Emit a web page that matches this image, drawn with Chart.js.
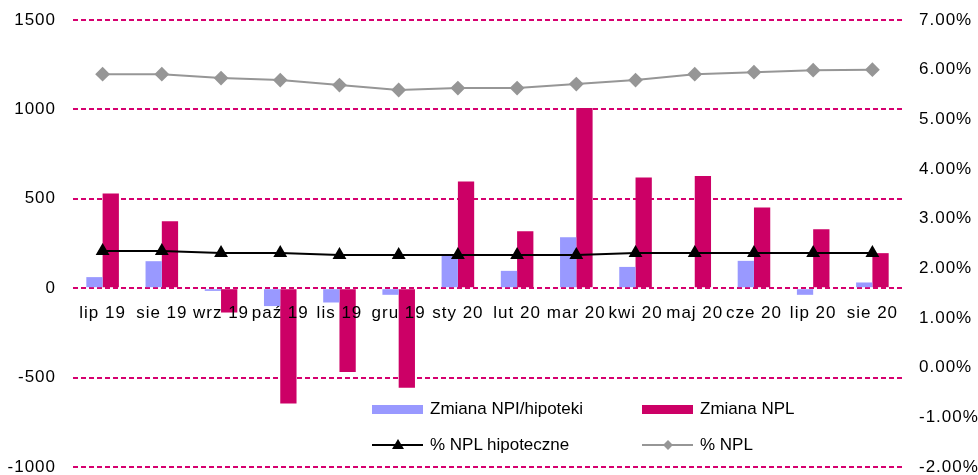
<!DOCTYPE html>
<html lang="pl">
<head>
  <meta charset="UTF-8">
  <title>NPL hipoteczne</title>
  <script src="https://cdn.jsdelivr.net/npm/chart.js"></script>
  <style>
    body {
      margin: 0;
      background: #fff;
      font-family: 'Liberation Sans', Arial, sans-serif;
    }
    .wrap {
      position: relative;
      width: 978px;
      height: 475px;
    }
    .legend {
      position: absolute;
      left: 372px;
      top: 391px;
      display: grid;
      grid-template-columns: 270px 200px;
      grid-auto-rows: 36px;
      font-size: 17px;
      color: #000;
    }
    .item {
      display: flex;
      align-items: center;
    }
    .swatch {
      position: relative;
      width: 51px;
      height: 9px;
      margin-right: 7px;
    }
    .swatch.line {
      height: 2px;
    }
    .marker {
      position: absolute;
      left: 50%;
      top: 50%;
    }
    .marker.triangle {
      width: 0;
      height: 0;
      border-left: 6px solid transparent;
      border-right: 6px solid transparent;
      border-bottom: 10px solid #000;
      transform: translate(-50%, -60%);
    }
    .marker.diamond {
      width: 7px;
      height: 7px;
      background: #969696;
      transform: translate(-50%, -50%) rotate(45deg);
    }
  </style>
</head>
<body>
  <div class="wrap">
    <canvas id="chart" width="978" height="475"></canvas>
    <div class="legend" id="legend"></div>
  </div>

  <script>
    const months = ['lip 19', 'sie 19', 'wrz 19', 'paź 19', 'lis 19', 'gru 19', 'sty 20',
                    'lut 20', 'mar 20', 'kwi 20', 'maj 20', 'cze 20', 'lip 20', 'sie 20'];
    const zmianaHipoteki = [62, 151, -15, -100, -80, -37, 190, 97, 285, 119, 0, 153, -37, 32];
    const zmianaNPL = [530, 375, -136, -645, -468, -557, 597, 319, 1008, 619, 628, 451, 330, 196];
    const nplHipoteczne = [2.35, 2.35, 2.31, 2.31, 2.27, 2.27, 2.27, 2.27, 2.27, 2.31, 2.31, 2.31, 2.31, 2.31];
    const nplTotal = [5.91, 5.91, 5.83, 5.79, 5.69, 5.59, 5.63, 5.63, 5.71, 5.79, 5.91, 5.95, 5.99, 6.0];
    const leftTicks = [-1000, -500, 0, 500, 1000, 1500];
    const rightTicks = [-2, -1, 0, 1, 2, 3, 4, 5, 6, 7];

    const font = { family: "'Liberation Sans', Arial, sans-serif", size: 17 };

    // the original axis text is spaced a bit wider than plain Arial
    const spacing = {
      id: 'spacing',
      beforeUpdate: c => { c.ctx.letterSpacing = '1px'; },
      beforeDraw: c => { c.ctx.letterSpacing = '1px'; }
    };

    // fixed axis width, and no extra room above/below for the end labels
    const fitSide = w => s => {
      s.width = w;
      s.paddingTop = 0;
      s.paddingBottom = 0;
    };

    const chart = new Chart(document.getElementById('chart'), {
      type: 'bar',
      data: {
        labels: months,
        datasets: [
          {
            label: 'Zmiana NPI/hipoteki',
            data: zmianaHipoteki,
            backgroundColor: '#9999ff',
            yAxisID: 'y',
            order: 2
          },
          {
            label: 'Zmiana NPL',
            data: zmianaNPL,
            backgroundColor: '#cc0066',
            yAxisID: 'y',
            order: 2
          },
          {
            type: 'line',
            label: '% NPL hipoteczne',
            data: nplHipoteczne,
            borderColor: '#000',
            backgroundColor: '#000',
            borderWidth: 2,
            pointStyle: 'triangle',
            pointRadius: 6,
            yAxisID: 'y1',
            order: 0
          },
          {
            type: 'line',
            label: '% NPL',
            data: nplTotal,
            borderColor: '#969696',
            backgroundColor: '#969696',
            borderWidth: 2,
            pointStyle: 'rectRot',
            pointRadius: 6,
            yAxisID: 'y1',
            order: 1
          }
        ]
      },
      options: {
        responsive: false,
        animation: false,
        layout: { padding: { top: 20, bottom: 8, left: 0, right: 0 } },
        datasets: {
          bar: { categoryPercentage: 0.55, barPercentage: 1 }
        },
        plugins: {
          legend: { display: false },
          tooltip: { enabled: false }
        },
        scales: {
          x: {
            position: { y: 0 },
            grid: { display: false, drawTicks: true, tickLength: 8 },
            border: { display: false },
            ticks: { z: 1, font: font, color: '#000', padding: 7, maxRotation: 0, autoSkip: false },
            afterFit: s => { s.height = 0; }
          },
          y: {
            position: 'left',
            min: -1000,
            max: 1500,
            afterBuildTicks: s => { s.ticks = leftTicks.map(v => ({ value: v })); },
            grid: {
              color: '#d6006f',
              lineWidth: 2,
              drawTicks: false
            },
            border: { display: false, dash: [5, 3] },
            ticks: { font: font, color: '#000', padding: 17, callback: v => String(v) },
            afterFit: fitSide(73)
          },
          y1: {
            position: 'right',
            min: -2,
            max: 7,
            afterBuildTicks: s => { s.ticks = rightTicks.map(v => ({ value: v })); },
            grid: { display: false, drawTicks: false },
            border: { display: false },
            ticks: {
              font: font,
              color: '#000',
              padding: 17,
              callback: v => v.toFixed(2) + '%'
            },
            afterFit: fitSide(76)
          }
        }
      },
      plugins: [spacing]
    });

    // legend inside the plot area, built from the datasets
    const legend = document.getElementById('legend');
    chart.data.datasets.forEach(ds => {
      const item = document.createElement('div');
      item.className = 'item';
      const sw = document.createElement('span');
      if (ds.type === 'line') {
        sw.className = 'swatch line';
        sw.style.background = ds.borderColor;
        const m = document.createElement('span');
        m.className = 'marker ' + (ds.pointStyle === 'triangle' ? 'triangle' : 'diamond');
        sw.appendChild(m);
      } else {
        sw.className = 'swatch';
        sw.style.background = ds.backgroundColor;
      }
      item.appendChild(sw);
      item.appendChild(document.createTextNode(ds.label));
      legend.appendChild(item);
    });
  </script>
</body>
</html>
